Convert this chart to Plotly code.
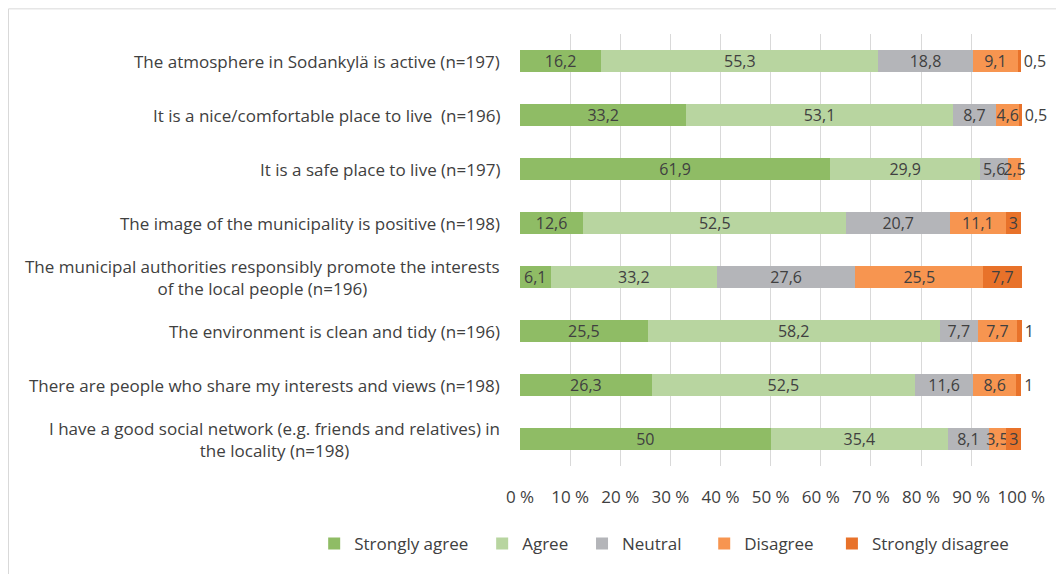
import plotly.graph_objects as go

STATEMENTS = [
    "The atmosphere in Sodankylä is active (n=197)",
    "It is a nice/comfortable place to live  (n=196)",
    "It is a safe place to live (n=197)",
    "The image of the municipality is positive (n=198)",
    "The municipal authorities responsibly promote the interests<br>of the local people (n=196)",
    "The environment is clean and tidy (n=196)",
    "There are people who share my interests and views (n=198)",
    "I have a good social network (e.g. friends and relatives) in<br>the locality (n=198)",
]

strongly_agree = [16.2, 33.2, 61.9, 12.6, 6.1, 25.5, 26.3, 50]
agree = [55.3, 53.1, 29.9, 52.5, 33.2, 58.2, 52.5, 35.4]
neutral = [18.8, 8.7, 5.6, 20.7, 27.6, 7.7, 11.6, 8.1]
disagree = [9.1, 4.6, 2.5, 11.1, 25.5, 7.7, 8.6, 3.5]
strongly_disagree = [0.5, 0.5, 0, 3, 7.7, 1, 1, 3]

SERIES = [
    ("Strongly agree", strongly_agree, "#8FBC65"),
    ("Agree", agree, "#B8D5A0"),
    ("Neutral", neutral, "#B4B5B9"),
    ("Disagree", disagree, "#F79550"),
    ("Strongly disagree", strongly_disagree, "#E8722A"),
]
# extra trailing space per legend entry, to match the wider spacing of the original
LEGEND_PAD = {"Strongly agree": 2, "Agree": 2, "Neutral": 4, "Disagree": 3, "Strongly disagree": 0}

FONT = "'Open Sans', sans-serif"
TEXT_COLOR = "#404040"


def fmt(v):
    if v == 0:
        return ""
    return f"{v:g}".replace(".", ",")


fig = go.Figure()
for name, values, color in SERIES:
    last = name == "Strongly disagree"
    positions = ["outside" if (last and 0 < v < 2) else "inside" for v in values]
    fig.add_trace(
        go.Bar(
            y=STATEMENTS,
            x=values,
            name=name + "\u00a0" * LEGEND_PAD[name],
            orientation="h",
            marker=dict(color=color, line=dict(width=0)),
            text=[fmt(v) for v in values],
            textposition=positions,
            textangle=0,
            insidetextanchor="middle",
            constraintext="none",
            cliponaxis=False,
            textfont=dict(family=FONT, size=16, color=TEXT_COLOR),
            outsidetextfont=dict(family=FONT, size=16, color=TEXT_COLOR),
            insidetextfont=dict(family=FONT, size=16, color=TEXT_COLOR),
            hoverinfo="skip",
        )
    )

# category labels as annotations so wrapped lines are centred like the original
for label in STATEMENTS:
    fig.add_annotation(
        x=0, xref="paper", y=label, yref="y",
        text=label, showarrow=False,
        xanchor="right", align="center", xshift=-18,
        font=dict(family=FONT, size=17, color=TEXT_COLOR),
    )

# light frame round the chart area
fig.add_shape(
    type="rect", xref="paper", yref="paper",
    x0=-1.0189, x1=1.2, y0=-0.5, y1=1.0582,
    line=dict(color="#D9D9D9", width=1), fillcolor="rgba(0,0,0,0)", layer="below",
)

# the page body adds an 8px margin, so the figure is 8px smaller than the window
fig.update_layout(
    width=1056,
    height=566,
    barmode="stack",
    bargap=0.6,
    plot_bgcolor="white",
    paper_bgcolor="white",
    margin=dict(l=512, r=42, t=26, b=102),
    font=dict(family=FONT, size=17, color=TEXT_COLOR),
    showlegend=True,
    legend=dict(
        orientation="h",
        xref="paper", x=-0.41, xanchor="left",
        yref="paper", y=-0.1805, yanchor="middle",
        font=dict(family=FONT, size=17, color=TEXT_COLOR),
        traceorder="normal",
    ),
)
# rows summing to 100.1 would otherwise lose their end labels
fig.update_xaxes(
    range=[0, 100.15],
    tick0=0,
    dtick=10,
    ticksuffix=" %",
    showgrid=True,
    gridcolor="#D9D9D9",
    gridwidth=1,
    zeroline=False,
    showline=False,
    ticklabelstandoff=19,
    tickfont=dict(family=FONT, size=17, color=TEXT_COLOR),
)
fig.update_yaxes(
    autorange="reversed",
    showticklabels=False,
    showgrid=False,
    showline=False,
)

fig.write_html("out.html")
